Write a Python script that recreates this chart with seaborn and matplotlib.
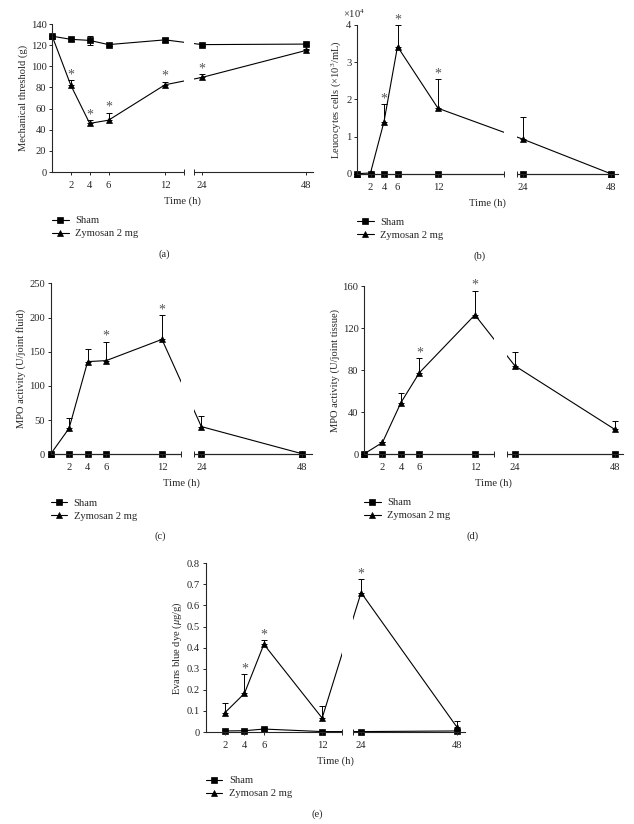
import numpy as np
import pandas as pd
import seaborn as sns
import matplotlib.pyplot as plt
from matplotlib.ticker import FuncFormatter

# Time points (h)
times = [0, 2, 4, 6, 12, 24, 48]
times_e = [2, 4, 6, 12, 24, 48]
xticks = [2, 4, 6, 12, 24, 48]
groups = ["Sham", "Zymosan 2 mg"]

# (a) Mechanical threshold (g)
a_sham = [128.5, 125.5, 124.5, 120.5, 125, 120.5, 121]
a_sham_err = [1.5, 1.5, 4, 1, 2, 1, 1]
a_zym = [129, 82, 46, 49, 82.5, 89.5, 115]
a_zym_err = [0, 5, 3, 7, 3, 3, 1.5]
a_stars = [2, 4, 6, 12, 24]

# (b) Leucocytes cells (x10^3/mL)
b_sham = [0, 0, 0, 0, 0, 0, 0]
b_zym = [0, 200, 14000, 34200, 17600, 9250, 0]
b_zym_err = [0, 0, 4700, 5800, 7900, 6000, 0]
b_stars = [4, 6, 12]

# (c) MPO activity (U/joint fluid)
c_sham = [0, 0, 0, 0, 0, 0, 0]
c_zym = [0, 38, 135.5, 137, 168, 40.5, 1]
c_zym_err = [0, 14.5, 18, 27.5, 35.5, 15.5, 0]
c_stars = [6, 12]

# (d) MPO activity (U/joint tissue)
d_sham = [0, 0, 0, 0, 0, 0, 0]
d_zym = [0, 11, 49, 77.5, 132.5, 84, 23.5]
d_zym_err = [0, 0, 9, 14, 23, 13.5, 7.5]
d_stars = [6, 12]

# (e) Evans blue dye (ug/g)
e_sham = [0.005, 0.006, 0.014, 0.002, 0.002, 0.005]
e_sham_err = [0.003, 0.003, 0.003, 0.002, 0.002, 0.003]
e_zym = [0.092, 0.183, 0.416, 0.066, 0.661, 0.025]
e_zym_err = [0.047, 0.091, 0.02, 0.057, 0.063, 0.029]
e_stars = [4, 6, 24]

sns.set_style("ticks")
plt.rcParams["font.family"] = ["Liberation Serif", "DejaVu Serif"]
plt.rcParams["mathtext.fontset"] = "custom"
plt.rcParams["mathtext.rm"] = "Liberation Serif"
plt.rcParams["mathtext.it"] = "Liberation Serif:italic"
plt.rcParams["axes.linewidth"] = 0.8

FS = 7.6
W, H = 634, 824
fig = plt.figure(figsize=(W / 100, H / 100), dpi=100)


def broken_scale(L, R, G, k):
    # piecewise time axis: 0..L, short gap, then R.. compressed by k
    def fwd(t):
        t = np.asarray(t, dtype=float)
        return np.where(t <= L, t,
                        np.where(t >= R, L + G + (t - R) * k,
                                 L + (t - L) * G / (R - L)))

    def inv(u):
        u = np.asarray(u, dtype=float)
        return np.where(u <= L, u,
                        np.where(u >= L + G, R + (u - L - G) / k,
                                 L + (u - L) * (R - L) / G))
    return fwd, inv


def panel(box, t, sham, zym, zym_err, stars, ylim, yticks, ylabel, brk,
          letter, sham_err=None, letter_x=0.43):
    left, top, right, bottom = box
    ax = fig.add_axes([left / W, 1 - bottom / H, (right - left) / W, (bottom - top) / H])
    L, R, G, k, xmax = brk
    ax.set_xscale("function", functions=broken_scale(L, R, G, k))

    n = len(t)
    df = pd.DataFrame({
        "Time (h)": list(t) * 2,
        "value": list(sham) + list(zym),
        "group": [groups[0]] * n + [groups[1]] * n,
    })
    # error bars (upper side only for zymosan)
    ax.errorbar(t, zym, yerr=[np.zeros(n), zym_err], fmt="none", ecolor="black",
                elinewidth=0.7, capsize=2, capthick=0.7, zorder=1.9, clip_on=False)
    if sham_err is not None:
        ax.errorbar(t, sham, yerr=sham_err, fmt="none", ecolor="black",
                    elinewidth=0.7, capsize=2, capthick=0.7, zorder=1.9, clip_on=False)

    sns.lineplot(data=df, x="Time (h)", y="value", style="group",
                 markers={groups[0]: "s", groups[1]: "^"}, dashes=False,
                 color="black", linewidth=0.8, markersize=4,
                 markeredgecolor="black", markeredgewidth=0.5,
                 errorbar=None, ax=ax, clip_on=False, zorder=2)
    for ln in ax.lines:
        if ln.get_marker() == "^":
            ln.set_markersize(4.8)

    # asterisks above the error bars
    for s in stars:
        i = list(t).index(s)
        ax.annotate("*", xy=(s, zym[i] + zym_err[i]), xytext=(0, 3.8),
                    textcoords="offset points", ha="center", va="center",
                    fontsize=10, color="#555555")

    ax.set_xlim(0, xmax)
    ax.set_ylim(*ylim)
    ax.set_yticks(yticks)
    ax.set_xticks(xticks)
    ax.set_xticks([L, R], minor=True)
    ax.xaxis.set_major_formatter(FuncFormatter(lambda v, p: f"{v:g}"))
    ax.tick_params(axis="x", which="major", direction="out", length=2, width=0.7,
                   labelsize=FS, pad=4.5)
    ax.tick_params(axis="x", which="minor", direction="inout", length=4.5, width=0.7)
    ax.tick_params(axis="y", direction="out", length=2.5, width=0.7, labelsize=FS, pad=1.5)
    ax.set_xlabel("Time (h)", fontsize=FS, labelpad=4.5)
    ax.set_ylabel(ylabel, fontsize=FS, labelpad=2)
    sns.despine(ax=ax)

    # blank the break in the axis line and the data lines
    ax.axvspan(L, R, ymin=-0.02, ymax=1, facecolor="white", edgecolor="none",
               zorder=2.6, clip_on=False)
    ax.xaxis.set_zorder(3)

    leg = ax.get_legend()
    handles = leg.legend_handles
    labels = [tx.get_text() for tx in leg.get_texts()]
    leg.remove()
    for h in handles:
        h.set_markeredgecolor("black")
        if h.get_marker() == "^":
            h.set_markersize(4.8)
    ax.legend(handles, labels, loc="upper left",
              bbox_to_anchor=(left / W, 1 - (bottom + 44) / H),
              bbox_transform=fig.transFigure, frameon=False, fontsize=FS,
              handlelength=1.6, handletextpad=0.6, labelspacing=0.35,
              borderpad=0, borderaxespad=0)

    fig.text((left + letter_x * (right - left)) / W, 1 - (bottom + 82) / H,
             letter, ha="center", va="center", fontsize=FS)
    return ax


ax_a = panel((52, 24, 313, 172), times, a_sham, a_zym, a_zym_err, a_stars,
             (0, 140), range(0, 141, 20), "Mechanical threshold (g)",
             (14.0, 22.1, 1.06, 0.46, 49.6), "(a)", sham_err=a_sham_err)

ax_b = panel((357, 25, 618, 173.7), times, b_sham, b_zym, b_zym_err, b_stars,
             (0, 40000), range(0, 40001, 10000),
             r"Leucocytes cells ($\times$10$^3$/mL)",
             (21.8, 22.2, 1.85, 0.54, 50.0), "(b)", letter_x=0.47)
ax_b.yaxis.set_major_formatter(FuncFormatter(lambda v, p: f"{v / 1e4:g}"))
ax_b.annotate(r"$\times$10$^4$", xy=(0, 1), xycoords="axes fraction", xytext=(-2, 8),
              textcoords="offset points", ha="center", va="center", fontsize=FS)

ax_c = panel((50.5, 283.3, 311.7, 454.3), times, c_sham, c_zym, c_zym_err, c_stars,
             (0, 250), range(0, 251, 50), "MPO activity (U/joint fluid)",
             (14.0, 22.2, 1.43, 0.45, 50.4), "(c)", letter_x=0.42)

ax_d = panel((364, 286, 623, 454), times, d_sham, d_zym, d_zym_err, d_stars,
             (0, 160), range(0, 161, 40), "MPO activity (U/joint tissue)",
             (14.05, 22.15, 1.44, 0.45, 50.0), "(d)", letter_x=0.42)

ax_e = panel((205.6, 563.3, 465, 732), times_e, e_sham, e_zym, e_zym_err, e_stars,
             (0, 0.8), np.arange(0, 0.81, 0.1), r"Evans blue dye ($\mu$g/g)",
             (14.0, 22.0, 1.19, 0.41, 50.1), "(e)", sham_err=e_sham_err, letter_x=0.43)
ax_e.yaxis.set_major_formatter(FuncFormatter(lambda v, p: f"{v:.1f}" if v > 0 else "0"))

fig.savefig("out.png", dpi=100)
